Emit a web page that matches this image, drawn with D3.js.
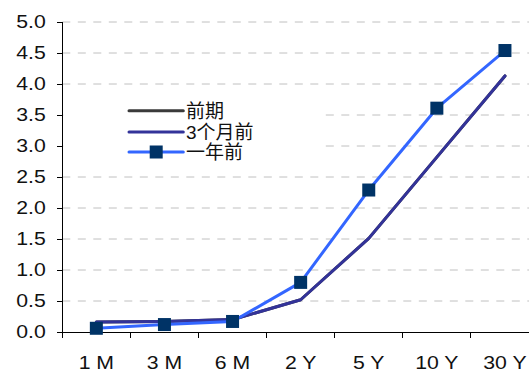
<!DOCTYPE html>
<html>
<head>
<meta charset="utf-8">
<script src="https://cdn.jsdelivr.net/npm/d3@7"></script>
<style>
  html, body { margin: 0; padding: 0; background: #fff; }
  svg { display: block; font-family: "Liberation Sans", Arial, "Noto Sans CJK SC", sans-serif; }
</style>
</head>
<body>
<div id="chart"></div>
<script>
const categories = ['1 M', '3 M', '6 M', '2 Y', '5 Y', '10 Y', '30 Y'];
const prevPeriod = [0.16, 0.17, 0.20, 0.52, 1.51, 2.82, 4.13];
const threeMonthsAgo = [0.16, 0.17, 0.20, 0.52, 1.51, 2.82, 4.13];
const oneYearAgo = [0.06, 0.12, 0.17, 0.80, 2.29, 3.61, 4.54];
const yTicks = [0, 0.5, 1, 1.5, 2, 2.5, 3, 3.5, 4, 4.5, 5];

const series = [
  { name: '前期', values: prevPeriod, color: '#3a3a3a', marker: false },
  { name: '3个月前', values: threeMonthsAgo, color: '#333399', marker: false },
  { name: '一年前', values: oneYearAgo, color: '#3366ff', marker: true }
];

const width = 529, height = 370;
const left = 62.3, step = 68.1;

const svg = d3.select('#chart').append('svg')
  .attr('width', width)
  .attr('height', height);

const x = d3.scaleBand()
  .domain(categories)
  .range([left, left + step * categories.length])
  .paddingInner(0).paddingOuter(0);
const y = d3.scaleLinear().domain([0, 5]).range([332, 22]);

// gridlines
svg.append('g')
  .selectAll('line')
  .data(yTicks.filter(d => d > 0))
  .enter()
  .append('line')
  .attr('x1', left).attr('x2', width)
  .attr('y1', d => y(d)).attr('y2', d => y(d))
  .attr('stroke', '#c0c0c0')
  .attr('stroke-width', 1)
  .attr('stroke-dasharray', '8,7.5');

// legend background hides the grid behind it
svg.append('rect')
  .attr('x', left + 1).attr('y', 96)
  .attr('width', 322 - left - 1).attr('height', 66)
  .attr('fill', '#fff');

// axes
const axis = svg.append('g').attr('stroke', '#000').attr('stroke-width', 1);
axis.append('line')
  .attr('x1', left).attr('x2', left)
  .attr('y1', y(5)).attr('y2', y(0))
  .attr('shape-rendering', 'crispEdges');
axis.append('line')
  .attr('x1', left).attr('x2', width)
  .attr('y1', y(0)).attr('y2', y(0))
  .attr('shape-rendering', 'crispEdges');
axis.selectAll('.yt')
  .data(yTicks)
  .enter()
  .append('line')
  .attr('x1', left - 5.5).attr('x2', left)
  .attr('y1', d => y(d)).attr('y2', d => y(d))
  .attr('shape-rendering', 'crispEdges');
axis.selectAll('.xt')
  .data(categories)
  .enter()
  .append('line')
  .attr('x1', d => x(d)).attr('x2', d => x(d))
  .attr('y1', y(0)).attr('y2', y(0) + 5.5)
  .attr('shape-rendering', 'crispEdges');

// tick labels (the original is stretched a little horizontally)
svg.append('g')
  .selectAll('text')
  .data(yTicks)
  .enter()
  .append('text')
  .attr('transform', d => `translate(45.7,${y(d) + 6.4}) scale(1.18,1)`)
  .attr('text-anchor', 'end')
  .style('font-size', '18px')
  .style('fill', '#111')
  .text(d => d.toFixed(1));

svg.append('g')
  .selectAll('text')
  .data(categories)
  .enter()
  .append('text')
  .attr('transform', d => `translate(${x(d) + x.bandwidth() / 2},368.6) scale(1.18,1)`)
  .attr('text-anchor', 'middle')
  .style('font-size', '18px')
  .style('fill', '#111')
  .text(d => d);

// series
const line = d3.line()
  .x((d, i) => x(categories[i]) + x.bandwidth() / 2)
  .y(d => y(d));

series.forEach(s => {
  svg.append('path')
    .datum(s.values)
    .attr('d', line)
    .attr('fill', 'none')
    .attr('stroke', s.color)
    .attr('stroke-width', 3)
    .attr('stroke-linejoin', 'round')
    .attr('stroke-linecap', 'round');
  if (s.marker) {
    svg.append('g')
      .selectAll('rect')
      .data(s.values)
      .enter()
      .append('rect')
      .attr('x', (d, i) => x(categories[i]) + x.bandwidth() / 2 - 6.5)
      .attr('y', d => y(d) - 6.5)
      .attr('width', 13).attr('height', 13)
      .attr('fill', '#003366');
  }
});

// legend
const legend = svg.append('g');
const rows = [110.7, 132, 152];
series.forEach((s, i) => {
  const g = legend.append('g').attr('transform', `translate(0,${rows[i]})`);
  g.append('line')
    .attr('x1', 129).attr('x2', 183.3)
    .attr('y1', 0).attr('y2', 0)
    .attr('stroke', s.color)
    .attr('stroke-width', 3)
    .attr('stroke-linecap', 'round');
  if (s.marker) {
    g.append('rect')
      .attr('x', 156.2 - 6.5).attr('y', -6.5)
      .attr('width', 13).attr('height', 13)
      .attr('fill', '#003366');
  }
  g.append('text')
    .attr('x', 186)
    .attr('y', 7)
    .style('font-size', '19px')
    .style('fill', '#111')
    .text(s.name);
});
</script>
</body>
</html>
